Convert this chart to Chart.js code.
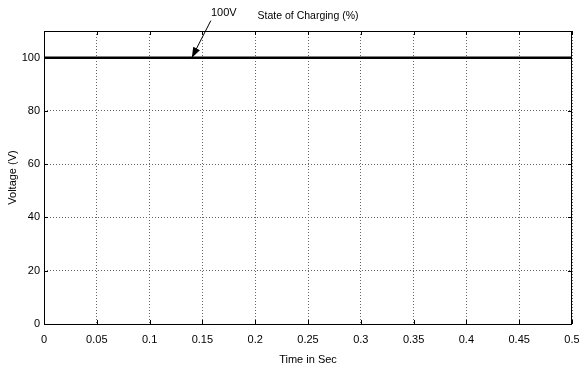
<!DOCTYPE html>
<html>
<head>
<meta charset="utf-8">
<script src="https://cdn.jsdelivr.net/npm/chart.js@4/dist/chart.umd.min.js"></script>
<style>
  html, body { margin: 0; padding: 0; background: #fff; }
  #wrap { width: 579px; height: 367px; }
</style>
</head>
<body>
<div id="wrap"><canvas id="socChart"></canvas></div>
<script>
var timeSec = [0, 0.05, 0.1, 0.15, 0.2, 0.25, 0.3, 0.35, 0.4, 0.45, 0.5];
var voltage = [100, 100, 100, 100, 100, 100, 100, 100, 100, 100, 100];
var yTicks = [0, 20, 40, 60, 80, 100];
var chartTitle = "State of Charging (%)";
var markTime = 0.14;
var markValue = 100;
var markLabel = "100V";

var FONT = "'Liberation Sans', Arial, sans-serif";

// MATLAB style: box, inward ticks on all sides, title over the axes, arrow label
var matlabBox = {
    id: "matlabBox",
    afterDraw: function (chart) {
        var c = chart.ctx, a = chart.chartArea;
        var xs = chart.scales.x, ys = chart.scales.y;
        c.save();
        c.strokeStyle = "#000";
        c.lineWidth = 1;
        c.strokeRect(a.left + 0.5, a.top + 0.5, a.right - a.left - 1, a.bottom - a.top);
        c.beginPath();
        timeSec.forEach(function (t) {
            var px = Math.round(xs.getPixelForValue(t)) + 0.5;
            c.moveTo(px, a.bottom); c.lineTo(px, a.bottom - 4);
            c.moveTo(px, a.top); c.lineTo(px, a.top + 4);
        });
        yTicks.forEach(function (v) {
            var py = Math.round(ys.getPixelForValue(v)) + 0.5;
            c.moveTo(a.left, py); c.lineTo(a.left + 4, py);
            c.moveTo(a.right, py); c.lineTo(a.right - 4, py);
        });
        c.stroke();

        c.fillStyle = "#000";
        c.textAlign = "center";
        c.textBaseline = "middle";
        c.font = "10.5px " + FONT;
        c.fillText(chartTitle, (a.left + a.right) / 2, a.top - 15);

        // arrow annotation
        var tx = xs.getPixelForValue(markTime), ty = ys.getPixelForValue(markValue);
        var sx = tx + 19, sy = ty - 37;
        var ang = Math.atan2(ty - sy, tx - sx);
        c.beginPath();
        c.moveTo(sx, sy); c.lineTo(tx, ty);
        c.stroke();
        c.beginPath();
        c.moveTo(tx, ty);
        c.lineTo(tx - 11 * Math.cos(ang - 0.35), ty - 11 * Math.sin(ang - 0.35));
        c.lineTo(tx - 11 * Math.cos(ang + 0.35), ty - 11 * Math.sin(ang + 0.35));
        c.closePath();
        c.fill();
        c.font = "11px " + FONT;
        c.fillText(markLabel, tx + 32, ty - 45);
        c.restore();
    }
};

var ctxx = document.getElementById("socChart").getContext("2d");

var myChart = new Chart(ctxx, {
    type: "line",
    data: {
        labels: timeSec,
        datasets: [
            {
                label: chartTitle,
                data: timeSec.map(function (t, i) { return { x: t, y: voltage[i] }; }),
                borderColor: "#000",
                borderWidth: 2.5,
                pointRadius: 0,
                tension: 0,
            },
        ],
    },
    options: {
        responsive: true,
        maintainAspectRatio: false,
        animation: false,
        layout: {
            padding: { left: 0, right: 7, top: 31, bottom: 0 },
        },
        scales: {
            x: {
                type: "linear",
                min: 0,
                max: 0.5,
                afterFit: function (s) { s.height = 43; s.paddingLeft = 0; s.paddingRight = 0; },
                afterBuildTicks: function (s) {
                    s.ticks = timeSec.map(function (v) { return { value: v }; });
                },
                ticks: {
                    color: "#000",
                    padding: 9,
                    maxRotation: 0,
                    font: { family: FONT, size: 11 },
                    callback: function (v) { return String(Number(v.toFixed(2))); },
                },
                grid: { color: "#666", lineWidth: 1, drawTicks: false },
                border: { display: false, dash: [1, 2] },
                title: {
                    display: true,
                    text: "Time in Sec",
                    color: "#000",
                    padding: { top: 4, bottom: 0 },
                    font: { family: FONT, size: 11 },
                },
            },
            y: {
                min: 0,
                max: 110,
                afterFit: function (s) { s.width = 44; s.paddingTop = 0; s.paddingBottom = 0; },
                afterBuildTicks: function (s) {
                    s.ticks = yTicks.map(function (v) { return { value: v }; });
                },
                ticks: {
                    color: "#000",
                    padding: 4,
                    font: { family: FONT, size: 11 },
                },
                grid: { color: "#666", lineWidth: 1, drawTicks: false },
                border: { display: false, dash: [1, 2] },
                title: {
                    display: true,
                    text: "Voltage (V)",
                    color: "#000",
                    padding: { top: 6, bottom: 0 },
                    font: { family: FONT, size: 11 },
                },
            },
        },
        plugins: {
            legend: { display: false },
            title: { display: false },
            tooltip: { enabled: false },
        },
    },
    plugins: [matlabBox],
});
</script>
</body>
</html>
